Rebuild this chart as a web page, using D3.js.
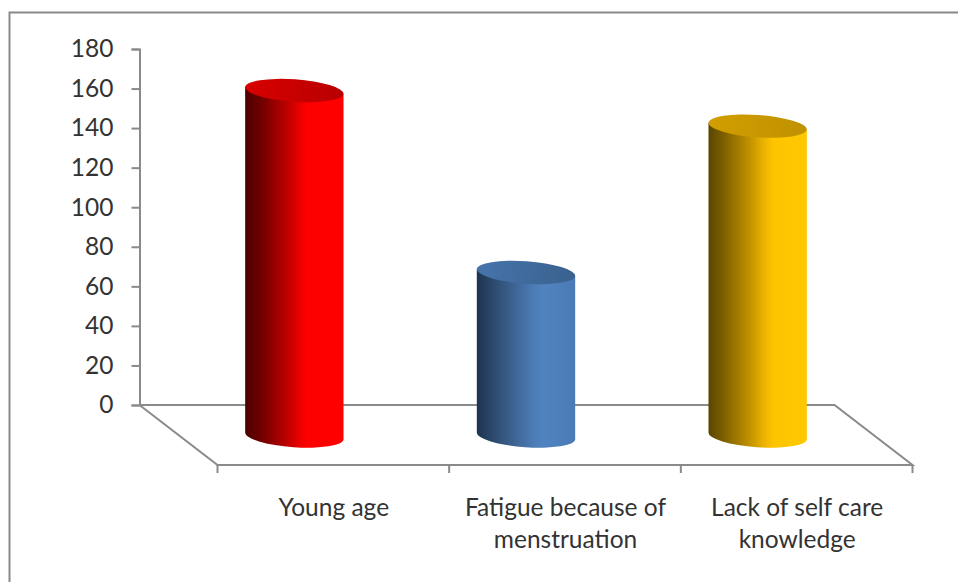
<!DOCTYPE html>
<html><head><meta charset="utf-8">
<script src="https://cdn.jsdelivr.net/npm/d3@7"></script>
<style>html,body{margin:0;padding:0;background:#fff}svg{display:block}</style>
</head><body>
<svg id="c" width="958" height="582"></svg>
<script>
const categories = [["Young age"], ["Fatigue because of", "menstruation"], ["Lack of self care", "knowledge"]];
const values = [159, 67, 141];
const yTicks = [0, 20, 40, 60, 80, 100, 120, 140, 160, 180];
const sideStops = [
  [["0","#4e0000"],["0.14","#6a0000"],["0.42","#bb0000"],["0.52","#e00000"],["0.62","#fd0000"],["1","#ff0000"]],
  [["0","#1d3350"],["0.14","#2a4668"],["0.42","#41699b"],["0.58","#4c7cb6"],["0.68","#5083c0"],["1","#4a7bb6"]],
  [["0","#5a4500"],["0.14","#7a5d00"],["0.42","#c29200"],["0.55","#e8b000"],["0.66","#fdc500"],["1","#ffc800"]]
];
const capStops = [
  [["0","#d80000"],["1","#b80000"]],
  [["0","#4674aa"],["1","#3a618f"]],
  [["0","#d29e00"],["1","#c09100"]]
];

const FONT = "Lato, 'Open Sans', sans-serif", GREY = "#8a8a8a", TEXT = "#333333";
const FONT_SIZE = "24.5px";
const depthX = 78, depthY = 60, rx = 49.3, ry = 11.2, tilt = 4;

const svg = d3.select("#c");
const y = d3.scaleLinear().domain([0, 180]).range([405, 49]);
const xFront = d3.scaleBand().domain(d3.range(categories.length)).range([217.5, 912.5]).paddingInner(0.577).paddingOuter(0.2885);

// outer frame (left and top only)
svg.append("path").attr("d", "M9.5,582V12.5H958").attr("fill", "none").attr("stroke", GREY).attr("stroke-width", 2);

// floor
const floor = svg.append("g").attr("fill", "none").attr("stroke", GREY).attr("stroke-width", 2);
const x0 = xFront.range()[0], x1 = xFront.range()[1];
floor.append("path").attr("d", `M${x0 - depthX},${y(0)}L${x0},${y(0) + depthY}H${x1}L${x1 - depthX},${y(0)}H${x0 - depthX}`);
const step = xFront.step();
d3.range(categories.length + 1).forEach(i => {
  const tx = x0 + i * step;
  floor.append("line").attr("x1", tx).attr("x2", tx).attr("y1", y(0) + depthY).attr("y2", y(0) + depthY + 8);
});

// y axis
const axis = svg.append("g").attr("transform", `translate(${x0 - depthX},0)`)
  .call(d3.axisLeft(y).tickValues(yTicks).tickSize(8).tickPadding(18));
axis.select(".domain").attr("stroke", GREY).attr("stroke-width", 2);
axis.selectAll(".tick line").attr("stroke", GREY).attr("stroke-width", 2);
axis.selectAll(".tick text").attr("fill", TEXT).style("font-family", FONT).style("font-size", FONT_SIZE);

// gradients
const defs = svg.append("defs");
function grad(id, stops) {
  const g = defs.append("linearGradient").attr("id", id).attr("x1", 0).attr("x2", 1).attr("y1", 0).attr("y2", 0);
  stops.forEach(s => g.append("stop").attr("offset", s[0]).attr("stop-color", s[1]));
}
values.forEach((_, i) => { grad("side" + i, sideStops[i]); grad("cap" + i, capStops[i]); });

// cylinders
const dx = rx * Math.cos(tilt * Math.PI / 180), dy = rx * Math.sin(tilt * Math.PI / 180);
const marks = svg.append("g");
values.forEach((v, i) => {
  const cx = xFront(i) + xFront.bandwidth() / 2 - depthX / 2;
  const top = y(v), base = y(0) + depthY / 2 + 1;
  marks.append("path")
    .attr("d", `M${cx - dx},${top - dy}L${cx - dx},${base - dy}A${rx},${ry} ${tilt} 0 0 ${cx + dx},${base + dy}L${cx + dx},${top + dy}Z`)
    .attr("fill", `url(#side${i})`);
  marks.append("ellipse").attr("cx", cx).attr("cy", top).attr("rx", rx).attr("ry", ry)
    .attr("transform", `rotate(${tilt} ${cx} ${top})`)
    .attr("fill", `url(#cap${i})`);
});

// category labels
categories.forEach((lines, i) => {
  const t = svg.append("text").attr("text-anchor", "middle")
    .attr("fill", TEXT).style("font-family", FONT).style("font-size", FONT_SIZE);
  lines.forEach((l, k) => t.append("tspan")
    .attr("x", xFront(i) + xFront.bandwidth() / 2 + 0.5)
    .attr("y", 516 + k * 32).text(l));
});
</script>
</body></html>
